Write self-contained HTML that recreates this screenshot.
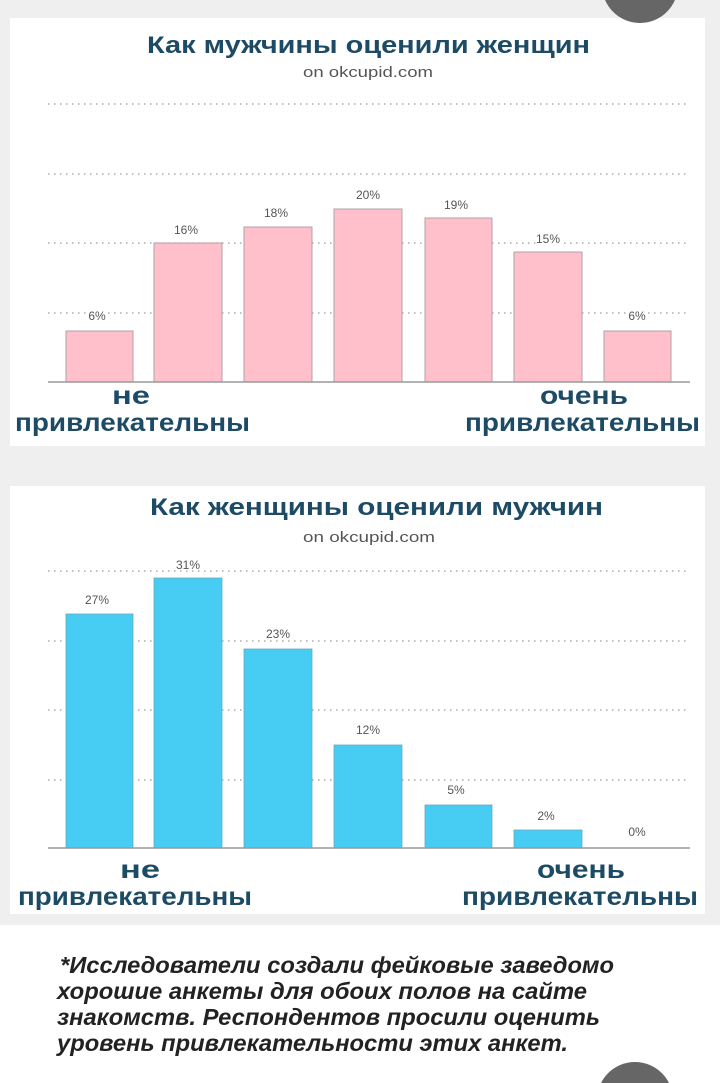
<!DOCTYPE html>
<html><head><meta charset="utf-8"><style>
html,body{margin:0;padding:0;width:720px;height:1083px;overflow:hidden;background:#fff}
svg{display:block}
</style></head><body>
<svg width="720" height="1083" xmlns="http://www.w3.org/2000/svg" font-family="Liberation Sans, DejaVu Sans, sans-serif" overflow="hidden">
<rect x="0" y="0" width="720" height="925" fill="#efefef"/>
<rect x="0" y="925" width="720" height="158" fill="#fff"/>
<rect x="10" y="18" width="695" height="428" fill="#fff"/>
<rect x="10" y="486" width="695" height="428" fill="#fff"/>
<circle cx="640" cy="-15" r="38" fill="#666"/>
<circle cx="635" cy="1100" r="38" fill="#666"/>

<!-- chart 1 -->
<text x="147" y="53" textLength="443" lengthAdjust="spacingAndGlyphs" font-size="24" font-weight="bold" fill="#1d4b66">Как мужчины оценили женщин</text>
<text x="303" y="77" textLength="130" lengthAdjust="spacingAndGlyphs" font-size="15" fill="#555">on okcupid.com</text>
<g stroke="#999" stroke-width="1.2" stroke-dasharray="1.5 4.5">
<line x1="48" y1="104" x2="688" y2="104"/><line x1="48" y1="174" x2="688" y2="174"/>
<line x1="48" y1="243" x2="688" y2="243"/><line x1="48" y1="313" x2="688" y2="313"/>
</g>
<g fill="#ffc0cb" stroke="#b0a0a4" stroke-width="1">
<rect x="66" y="331" width="67" height="51"/><rect x="154" y="243" width="68" height="139"/>
<rect x="244" y="227" width="68" height="155"/><rect x="334" y="209" width="68" height="173"/>
<rect x="425" y="218" width="67" height="164"/><rect x="514" y="252" width="68" height="130"/>
<rect x="604" y="331" width="67" height="51"/>
</g>
<line x1="48" y1="382" x2="690" y2="382" stroke="#999" stroke-width="1.5"/>
<g font-size="12" fill="#555" text-anchor="middle">
<text x="97" y="320" style="paint-order:stroke" stroke="#fff" stroke-width="3">6%</text><text x="186" y="234">16%</text><text x="276" y="217">18%</text>
<text x="368" y="199">20%</text><text x="456" y="209">19%</text><text x="548" y="243" style="paint-order:stroke" stroke="#fff" stroke-width="3">15%</text>
<text x="637" y="320" style="paint-order:stroke" stroke="#fff" stroke-width="3">6%</text>
</g>
<g font-size="25" font-weight="bold" fill="#1d4b66">
<text x="112" y="404" textLength="38" lengthAdjust="spacingAndGlyphs">не</text>
<text x="15" y="431" textLength="235" lengthAdjust="spacingAndGlyphs">привлекательны</text>
<text x="540" y="404" textLength="88" lengthAdjust="spacingAndGlyphs">очень</text>
<text x="465" y="431" textLength="235" lengthAdjust="spacingAndGlyphs">привлекательны</text>
</g>

<!-- chart 2 -->
<text x="150" y="515" textLength="453" lengthAdjust="spacingAndGlyphs" font-size="24" font-weight="bold" fill="#1d4b66">Как женщины оценили мужчин</text>
<text x="303" y="542" textLength="132" lengthAdjust="spacingAndGlyphs" font-size="15" fill="#555">on okcupid.com</text>
<g stroke="#999" stroke-width="1.2" stroke-dasharray="1.5 4.5">
<line x1="48" y1="571" x2="688" y2="571"/><line x1="48" y1="641" x2="688" y2="641"/>
<line x1="48" y1="710" x2="688" y2="710"/><line x1="48" y1="780" x2="688" y2="780"/>
</g>
<g fill="#47cdf3" stroke="#6ab" stroke-width="0.8">
<rect x="66" y="614" width="67" height="234"/><rect x="154" y="578" width="68" height="270"/>
<rect x="244" y="649" width="68" height="199"/><rect x="334" y="745" width="68" height="103"/>
<rect x="425" y="805" width="67" height="43"/><rect x="514" y="830" width="68" height="18"/>
</g>
<line x1="48" y1="848" x2="690" y2="848" stroke="#999" stroke-width="1.5"/>
<g font-size="12" fill="#555" text-anchor="middle">
<text x="97" y="604">27%</text><text x="188" y="569" style="paint-order:stroke" stroke="#fff" stroke-width="3">31%</text>
<text x="278" y="638" style="paint-order:stroke" stroke="#fff" stroke-width="3">23%</text>
<text x="368" y="734">12%</text><text x="456" y="794">5%</text><text x="546" y="820">2%</text><text x="637" y="836">0%</text>
</g>
<g font-size="25" font-weight="bold" fill="#1d4b66">
<text x="120" y="878" textLength="40" lengthAdjust="spacingAndGlyphs">не</text>
<text x="18" y="905" textLength="234" lengthAdjust="spacingAndGlyphs">привлекательны</text>
<text x="537" y="878" textLength="88" lengthAdjust="spacingAndGlyphs">очень</text>
<text x="462" y="905" textLength="236" lengthAdjust="spacingAndGlyphs">привлекательны</text>
</g>

<g font-size="23" font-weight="bold" font-style="italic" fill="#222">
<text x="60" y="973" textLength="554" lengthAdjust="spacingAndGlyphs">*Исследователи создали фейковые заведомо</text>
<text x="57" y="999" textLength="530" lengthAdjust="spacingAndGlyphs">хорошие анкеты для обоих полов на сайте</text>
<text x="57" y="1025" textLength="543" lengthAdjust="spacingAndGlyphs">знакомств. Респондентов просили оценить</text>
<text x="57" y="1051" textLength="511" lengthAdjust="spacingAndGlyphs">уровень привлекательности этих анкет.</text>
</g>
</svg>
</body></html>
